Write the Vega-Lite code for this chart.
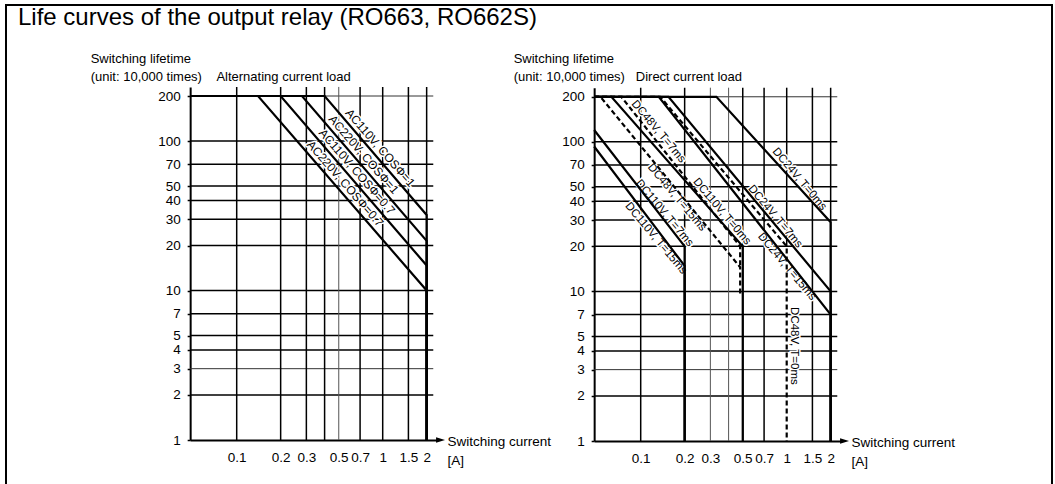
{
  "$schema": "https://vega.github.io/schema/vega-lite/v6.json",
  "autosize": {"type": "none"},
  "width": 1046,
  "height": 482,
  "padding": {"left": 6, "top": 5, "right": 3, "bottom": -3},
  "background": "white",
  "config": {
    "font": "Liberation Sans",
    "view": {"stroke": "#000", "strokeWidth": 2},
    "axis": {"domainColor": "#000", "domainWidth": 2, "labelColor": "#000", "labelFontSize": 13, "titleColor": "#000", "titleFontWeight": "normal", "titleFontSize": 13, "grid": false, "tickColor": "#000"}
  },
  "title": {"text": "Life curves of the output relay (RO663, RO662S)", "anchor": "start", "frame": "group", "dx": 12, "offset": -25, "fontSize": 24, "fontWeight": "normal", "color": "#000", "font": "Liberation Sans"},
  "datasets": {
    "currentGrid": [
      {"panel": "AC", "current": 0.1, "bottom": 1, "top": 230}, {"panel": "AC", "current": 0.2, "bottom": 1, "top": 230}, {"panel": "AC", "current": 0.3, "bottom": 1, "top": 230}, {"panel": "AC", "current": 0.4, "bottom": 1, "top": 230}, {"panel": "AC", "current": 0.7, "bottom": 1, "top": 230}, {"panel": "AC", "current": 1, "bottom": 1, "top": 230}, {"panel": "AC", "current": 1.5, "bottom": 1, "top": 230}, {"panel": "AC", "current": 2, "bottom": 1, "top": 230},
      {"panel": "DC", "current": 0.1, "bottom": 1, "top": 230}, {"panel": "DC", "current": 0.2, "bottom": 1, "top": 230}, {"panel": "DC", "current": 0.5, "bottom": 1, "top": 230}, {"panel": "DC", "current": 0.7, "bottom": 1, "top": 230}, {"panel": "DC", "current": 1, "bottom": 20, "top": 230}, {"panel": "DC", "current": 1.5, "bottom": 1, "top": 230}, {"panel": "DC", "current": 2, "bottom": 1, "top": 230}
    ],
    "fineCurrentGrid": [
      {"panel": "AC", "current": 0.5, "bottom": 1, "top": 230}, {"panel": "DC", "current": 0.3, "bottom": 1, "top": 230}, {"panel": "DC", "current": 0.4, "bottom": 1, "top": 230}
    ],
    "lifetimeGrid": [
      {"lifetime": 2}, {"lifetime": 4}, {"lifetime": 5}, {"lifetime": 7}, {"lifetime": 10}, {"lifetime": 20}, {"lifetime": 30}, {"lifetime": 40}, {"lifetime": 50}, {"lifetime": 70}, {"lifetime": 100}
    ],
    "fineLifetimeGrid": [{"lifetime": 3}, {"lifetime": 200}],
    "arrows": [
      {"panel": "AC", "current": 2.49, "lifetime": 1},
      {"panel": "DC", "current": 2.49, "lifetime": 1}
    ],
    "curves": [
      {"panel": "AC", "series": "AC110V, COSΦ=1", "voltage": "AC110V", "step": 1, "current": 0.048, "lifetime": 200},
      {"panel": "AC", "series": "AC110V, COSΦ=1", "voltage": "AC110V", "step": 2, "current": 0.4, "lifetime": 200},
      {"panel": "AC", "series": "AC110V, COSΦ=1", "voltage": "AC110V", "step": 3, "current": 2, "lifetime": 32},
      {"panel": "AC", "series": "AC110V, COSΦ=1", "voltage": "AC110V", "step": 4, "current": 2, "lifetime": 1},
      {"panel": "AC", "series": "AC220V, COSΦ=1", "voltage": "AC220V", "step": 1, "current": 0.048, "lifetime": 200},
      {"panel": "AC", "series": "AC220V, COSΦ=1", "voltage": "AC220V", "step": 2, "current": 0.28, "lifetime": 200},
      {"panel": "AC", "series": "AC220V, COSΦ=1", "voltage": "AC220V", "step": 3, "current": 2, "lifetime": 21.5},
      {"panel": "AC", "series": "AC220V, COSΦ=1", "voltage": "AC220V", "step": 4, "current": 2, "lifetime": 1},
      {"panel": "AC", "series": "AC110V, COSΦ=0.7", "voltage": "AC110V", "step": 1, "current": 0.048, "lifetime": 200},
      {"panel": "AC", "series": "AC110V, COSΦ=0.7", "voltage": "AC110V", "step": 2, "current": 0.2, "lifetime": 200},
      {"panel": "AC", "series": "AC110V, COSΦ=0.7", "voltage": "AC110V", "step": 3, "current": 2, "lifetime": 14.7},
      {"panel": "AC", "series": "AC110V, COSΦ=0.7", "voltage": "AC110V", "step": 4, "current": 2, "lifetime": 1},
      {"panel": "AC", "series": "AC220V, COSΦ=0.7", "voltage": "AC220V", "step": 1, "current": 0.048, "lifetime": 200},
      {"panel": "AC", "series": "AC220V, COSΦ=0.7", "voltage": "AC220V", "step": 2, "current": 0.14, "lifetime": 200},
      {"panel": "AC", "series": "AC220V, COSΦ=0.7", "voltage": "AC220V", "step": 3, "current": 2, "lifetime": 10},
      {"panel": "AC", "series": "AC220V, COSΦ=0.7", "voltage": "AC220V", "step": 4, "current": 2, "lifetime": 1},

      {"panel": "DC", "series": "DC24V, T=0ms", "voltage": "DC24V", "step": 1, "current": 0.048, "lifetime": 200},
      {"panel": "DC", "series": "DC24V, T=0ms", "voltage": "DC24V", "step": 2, "current": 0.33, "lifetime": 200},
      {"panel": "DC", "series": "DC24V, T=0ms", "voltage": "DC24V", "step": 3, "current": 2, "lifetime": 29},
      {"panel": "DC", "series": "DC24V, T=0ms", "voltage": "DC24V", "step": 4, "current": 2, "lifetime": 1},
      {"panel": "DC", "series": "DC24V, T=7ms", "voltage": "DC24V", "step": 1, "current": 0.048, "lifetime": 200},
      {"panel": "DC", "series": "DC24V, T=7ms", "voltage": "DC24V", "step": 2, "current": 0.155, "lifetime": 200},
      {"panel": "DC", "series": "DC24V, T=7ms", "voltage": "DC24V", "step": 3, "current": 2, "lifetime": 10},
      {"panel": "DC", "series": "DC24V, T=7ms", "voltage": "DC24V", "step": 4, "current": 2, "lifetime": 1},
      {"panel": "DC", "series": "DC24V, T=15ms", "voltage": "DC24V", "step": 1, "current": 0.048, "lifetime": 200},
      {"panel": "DC", "series": "DC24V, T=15ms", "voltage": "DC24V", "step": 2, "current": 0.133, "lifetime": 200},
      {"panel": "DC", "series": "DC24V, T=15ms", "voltage": "DC24V", "step": 3, "current": 2, "lifetime": 7},
      {"panel": "DC", "series": "DC24V, T=15ms", "voltage": "DC24V", "step": 4, "current": 2, "lifetime": 1},
      {"panel": "DC", "series": "DC110V, T=0ms", "voltage": "DC110V", "step": 1, "current": 0.048, "lifetime": 200},
      {"panel": "DC", "series": "DC110V, T=0ms", "voltage": "DC110V", "step": 2, "current": 0.063, "lifetime": 200},
      {"panel": "DC", "series": "DC110V, T=0ms", "voltage": "DC110V", "step": 3, "current": 0.5, "lifetime": 20},
      {"panel": "DC", "series": "DC110V, T=0ms", "voltage": "DC110V", "step": 4, "current": 0.5, "lifetime": 1},
      {"panel": "DC", "series": "DC110V, T=7ms", "voltage": "DC110V", "step": 1, "current": 0.048, "lifetime": 120},
      {"panel": "DC", "series": "DC110V, T=7ms", "voltage": "DC110V", "step": 2, "current": 0.2, "lifetime": 20},
      {"panel": "DC", "series": "DC110V, T=7ms", "voltage": "DC110V", "step": 3, "current": 0.2, "lifetime": 1},
      {"panel": "DC", "series": "DC110V, T=15ms", "voltage": "DC110V", "step": 1, "current": 0.048, "lifetime": 93},
      {"panel": "DC", "series": "DC110V, T=15ms", "voltage": "DC110V", "step": 2, "current": 0.2, "lifetime": 14.8},
      {"panel": "DC", "series": "DC110V, T=15ms", "voltage": "DC110V", "step": 3, "current": 0.2, "lifetime": 1},
      {"panel": "DC", "series": "DC48V, T=0ms", "voltage": "DC48V", "step": 1, "current": 0.048, "lifetime": 200},
      {"panel": "DC", "series": "DC48V, T=0ms", "voltage": "DC48V", "step": 2, "current": 0.136, "lifetime": 200},
      {"panel": "DC", "series": "DC48V, T=0ms", "voltage": "DC48V", "step": 3, "current": 1, "lifetime": 20},
      {"panel": "DC", "series": "DC48V, T=0ms", "voltage": "DC48V", "step": 4, "current": 1, "lifetime": 1},
      {"panel": "DC", "series": "DC48V, T=7ms", "voltage": "DC48V", "step": 1, "current": 0.048, "lifetime": 200},
      {"panel": "DC", "series": "DC48V, T=7ms", "voltage": "DC48V", "step": 2, "current": 0.0736, "lifetime": 200},
      {"panel": "DC", "series": "DC48V, T=7ms", "voltage": "DC48V", "step": 3, "current": 0.48, "lifetime": 20},
      {"panel": "DC", "series": "DC48V, T=7ms", "voltage": "DC48V", "step": 4, "current": 0.48, "lifetime": 14.5},
      {"panel": "DC", "series": "DC48V, T=15ms", "voltage": "DC48V", "step": 1, "current": 0.048, "lifetime": 200},
      {"panel": "DC", "series": "DC48V, T=15ms", "voltage": "DC48V", "step": 2, "current": 0.053, "lifetime": 200},
      {"panel": "DC", "series": "DC48V, T=15ms", "voltage": "DC48V", "step": 3, "current": 0.48, "lifetime": 14.5},
      {"panel": "DC", "series": "DC48V, T=15ms", "voltage": "DC48V", "step": 4, "current": 0.48, "lifetime": 9.5}
    ],
    "curveLabels": [
      {"panel": "AC", "series": "AC110V, COSΦ=1", "current": 0.869, "lifetime": 82.6},
      {"panel": "AC", "series": "AC220V, COSΦ=1", "current": 0.669, "lifetime": 74.5},
      {"panel": "AC", "series": "AC110V, COSΦ=0.7", "current": 0.602, "lifetime": 57.3},
      {"panel": "AC", "series": "AC220V, COSΦ=0.7", "current": 0.5, "lifetime": 47.6},
      {"panel": "DC", "series": "DC24V, T=0ms", "current": 1.218, "lifetime": 56.2},
      {"panel": "DC", "series": "DC24V, T=7ms", "current": 0.832, "lifetime": 31.6},
      {"panel": "DC", "series": "DC24V, T=15ms", "current": 1.0, "lifetime": 14.6},
      {"panel": "DC", "series": "DC48V, T=7ms", "current": 0.132, "lifetime": 116.8},
      {"panel": "DC", "series": "DC48V, T=15ms", "current": 0.1764, "lifetime": 42.4},
      {"panel": "DC", "series": "DC110V, T=0ms", "current": 0.3587, "lifetime": 34.1},
      {"panel": "DC", "series": "DC110V, T=7ms", "current": 0.1449, "lifetime": 33.3},
      {"panel": "DC", "series": "DC110V, T=15ms", "current": 0.1269, "lifetime": 22.6},
      {"panel": "DC", "series": "DC48V, T=0ms", "current": 1.0, "lifetime": 4.32}
    ]
  },
  "layer": [
    {
      "data": {"name": "lifetimeGrid"},
      "mark": {"type": "rule", "color": "#000", "strokeWidth": 1.5},
      "encoding": {
        "y": {"field": "lifetime", "type": "quantitative", "scale": {"type": "log", "domain": [1, 230], "range": [435, 81.93], "nice": false}, "axis": null},
        "x": {"datum": 0.048, "type": "quantitative", "scale": {"type": "log", "domain": [0.048, 2.35], "range": [184.16, 430.88], "nice": false}, "axis": null},
        "x2": {"datum": 2.22}
      }
    },
    {
      "data": {"name": "fineLifetimeGrid"},
      "mark": {"type": "rule", "color": "#333", "strokeWidth": 1},
      "encoding": {
        "y": {"field": "lifetime", "type": "quantitative", "scale": {"type": "log", "domain": [1, 230], "range": [435, 81.93], "nice": false}, "axis": null},
        "x": {"datum": 0.048, "type": "quantitative", "scale": {"type": "log", "domain": [0.048, 2.35], "range": [184.16, 430.88], "nice": false}, "axis": null},
        "x2": {"datum": 2.22}
      }
    },
    {
      "data": {"name": "currentGrid"},
      "transform": [{"filter": "datum.panel === 'AC'"}],
      "mark": {"type": "rule", "color": "#000", "strokeWidth": 1.5},
      "encoding": {
        "x": {"field": "current", "type": "quantitative", "scale": {"type": "log", "domain": [0.048, 2.35], "range": [184.16, 430.88], "nice": false}, "axis": null},
        "y": {"field": "bottom", "type": "quantitative", "scale": {"type": "log", "domain": [1, 230], "range": [435, 81.93], "nice": false}, "axis": null},
        "y2": {"field": "top"}
      }
    },
    {
      "data": {"name": "fineCurrentGrid"},
      "transform": [{"filter": "datum.panel === 'AC'"}],
      "mark": {"type": "rule", "color": "#555", "strokeWidth": 1},
      "encoding": {
        "x": {"field": "current", "type": "quantitative", "scale": {"type": "log", "domain": [0.048, 2.35], "range": [184.16, 430.88], "nice": false}, "axis": null},
        "y": {"field": "bottom", "type": "quantitative", "scale": {"type": "log", "domain": [1, 230], "range": [435, 81.93], "nice": false}, "axis": null},
        "y2": {"field": "top"}
      }
    },
    {
      "data": {"name": "lifetimeGrid"},
      "mark": {"type": "rule", "color": "#000", "strokeWidth": 1.5},
      "encoding": {
        "y": {"field": "lifetime", "type": "quantitative", "scale": {"type": "log", "domain": [1, 230], "range": [436, 82.7], "nice": false}, "axis": null},
        "x": {"datum": 0.048, "type": "quantitative", "scale": {"type": "log", "domain": [0.048, 2.35], "range": [588.16, 834.88], "nice": false}, "axis": null},
        "x2": {"datum": 2.22}
      }
    },
    {
      "data": {"name": "fineLifetimeGrid"},
      "mark": {"type": "rule", "color": "#333", "strokeWidth": 1},
      "encoding": {
        "y": {"field": "lifetime", "type": "quantitative", "scale": {"type": "log", "domain": [1, 230], "range": [436, 82.7], "nice": false}, "axis": null},
        "x": {"datum": 0.048, "type": "quantitative", "scale": {"type": "log", "domain": [0.048, 2.35], "range": [588.16, 834.88], "nice": false}, "axis": null},
        "x2": {"datum": 2.22}
      }
    },
    {
      "data": {"name": "currentGrid"},
      "transform": [{"filter": "datum.panel === 'DC'"}],
      "mark": {"type": "rule", "color": "#000", "strokeWidth": 1.5},
      "encoding": {
        "x": {"field": "current", "type": "quantitative", "scale": {"type": "log", "domain": [0.048, 2.35], "range": [588.16, 834.88], "nice": false}, "axis": null},
        "y": {"field": "bottom", "type": "quantitative", "scale": {"type": "log", "domain": [1, 230], "range": [436, 82.7], "nice": false}, "axis": null},
        "y2": {"field": "top"}
      }
    },
    {
      "data": {"name": "fineCurrentGrid"},
      "transform": [{"filter": "datum.panel === 'DC'"}],
      "mark": {"type": "rule", "color": "#555", "strokeWidth": 1},
      "encoding": {
        "x": {"field": "current", "type": "quantitative", "scale": {"type": "log", "domain": [0.048, 2.35], "range": [588.16, 834.88], "nice": false}, "axis": null},
        "y": {"field": "bottom", "type": "quantitative", "scale": {"type": "log", "domain": [1, 230], "range": [436, 82.7], "nice": false}, "axis": null},
        "y2": {"field": "top"}
      }
    },
    {
      "data": {"name": "curveLabels"},
      "transform": [{"filter": "datum.panel === 'AC'"}],
      "mark": {"type": "text", "angle": 49, "fontSize": 12, "align": "center", "baseline": "bottom", "dy": -1.5, "fill": "white", "stroke": "white", "strokeWidth": 3},
      "encoding": {
        "x": {"field": "current", "type": "quantitative", "scale": {"type": "log", "domain": [0.048, 2.35], "range": [184.16, 430.88], "nice": false}, "axis": null},
        "y": {"field": "lifetime", "type": "quantitative", "scale": {"type": "log", "domain": [1, 230], "range": [435, 81.93], "nice": false}, "axis": null},
        "text": {"field": "series"}
      }
    },
    {
      "data": {"name": "curveLabels"},
      "transform": [{"filter": "datum.panel === 'DC' && datum.series !== 'DC48V, T=0ms'"}],
      "mark": {"type": "text", "angle": 50, "fontSize": 11.5, "align": "center", "baseline": "middle", "fill": "white", "stroke": "white", "strokeWidth": 3},
      "encoding": {
        "x": {"field": "current", "type": "quantitative", "scale": {"type": "log", "domain": [0.048, 2.35], "range": [588.16, 834.88], "nice": false}, "axis": null},
        "y": {"field": "lifetime", "type": "quantitative", "scale": {"type": "log", "domain": [1, 230], "range": [436, 82.7], "nice": false}, "axis": null},
        "text": {"field": "series"}
      }
    },
    {
      "data": {"name": "curveLabels"},
      "transform": [{"filter": "datum.series === 'DC48V, T=0ms'"}],
      "mark": {"type": "text", "angle": 90, "fontSize": 11.5, "align": "center", "baseline": "bottom", "dy": -2, "fill": "white", "stroke": "white", "strokeWidth": 3},
      "encoding": {
        "x": {"field": "current", "type": "quantitative", "scale": {"type": "log", "domain": [0.048, 2.35], "range": [588.16, 834.88], "nice": false}, "axis": null},
        "y": {"field": "lifetime", "type": "quantitative", "scale": {"type": "log", "domain": [1, 230], "range": [436, 82.7], "nice": false}, "axis": null},
        "text": {"field": "series"}
      }
    },
    {
      "data": {"name": "curves"},
      "transform": [{"filter": "datum.panel === 'AC'"}],
      "mark": {"type": "line", "color": "#000", "strokeWidth": 2.2},
      "encoding": {
        "x": {"field": "current", "type": "quantitative", "scale": {"type": "log", "domain": [0.048, 2.35], "range": [184.16, 430.88], "nice": false},
          "axis": {"values": [0.1, 0.2, 0.3, 0.5, 0.7, 1, 1.5, 2], "format": "~g", "orient": "bottom", "offset": -47, "ticks": false, "tickSize": 0, "labelPadding": 10, "labelFlush": false, "labelOverlap": false, "labelFontSize": 13.5,
            "title": ["Switching current", "[A]"], "titleAlign": "left", "titleX": 441, "titleY": 5.5, "titleBaseline": "alphabetic", "titleLineHeight": 19, "titleFontSize": 13.5}},
        "y": {"field": "lifetime", "type": "quantitative", "scale": {"type": "log", "domain": [1, 230], "range": [435, 81.93], "nice": false},
          "axis": {"values": [1, 2, 3, 4, 5, 7, 10, 20, 30, 40, 50, 70, 100, 200], "format": "~g", "orient": "left", "offset": -184.16, "tickSize": 3, "tickWidth": 1.5, "labelPadding": 7, "labelFontSize": 13.5,
            "title": ["Switching lifetime", "(unit: 10,000 times)\u00a0\u00a0\u00a0\u00a0Alternating current load"], "titleAngle": 0, "titleAlign": "left", "titleBaseline": "alphabetic", "titleX": -100, "titleY": 57, "titleLineHeight": 18, "titleFontSize": 13}},
        "detail": {"field": "series"},
        "order": {"field": "step", "type": "quantitative"}
      }
    },
    {
      "data": {"name": "curves"},
      "transform": [{"filter": "datum.panel === 'DC' && datum.voltage !== 'DC48V'"}],
      "mark": {"type": "line", "color": "#000", "strokeWidth": 2.2},
      "encoding": {
        "x": {"field": "current", "type": "quantitative", "scale": {"type": "log", "domain": [0.048, 2.35], "range": [588.16, 834.88], "nice": false},
          "axis": {"values": [0.1, 0.2, 0.3, 0.5, 0.7, 1, 1.5, 2], "format": "~g", "orient": "bottom", "offset": -46, "ticks": false, "tickSize": 0, "labelPadding": 10, "labelFlush": false, "labelOverlap": false, "labelFontSize": 13.5,
            "title": ["Switching current", "[A]"], "titleAlign": "left", "titleX": 845, "titleY": 5.5, "titleBaseline": "alphabetic", "titleLineHeight": 19, "titleFontSize": 13.5}},
        "y": {"field": "lifetime", "type": "quantitative", "scale": {"type": "log", "domain": [1, 230], "range": [436, 82.7], "nice": false},
          "axis": {"values": [1, 2, 3, 4, 5, 7, 10, 20, 30, 40, 50, 70, 100, 200], "format": "~g", "orient": "left", "offset": -588.16, "tickSize": 3, "tickWidth": 1.5, "labelPadding": 7, "labelFontSize": 13.5,
            "title": ["Switching lifetime", "(unit: 10,000 times)\u00a0\u00a0\u00a0Direct current load"], "titleAngle": 0, "titleAlign": "left", "titleBaseline": "alphabetic", "titleX": -81, "titleY": 57, "titleLineHeight": 18, "titleFontSize": 13}},
        "detail": {"field": "series"},
        "order": {"field": "step", "type": "quantitative"}
      }
    },
    {
      "data": {"name": "curves"},
      "transform": [{"filter": "datum.panel === 'DC' && datum.voltage === 'DC48V'"}],
      "mark": {"type": "line", "color": "#000", "strokeWidth": 2.2, "strokeDash": [5, 3]},
      "encoding": {
        "x": {"field": "current", "type": "quantitative", "scale": {"type": "log", "domain": [0.048, 2.35], "range": [588.16, 834.88], "nice": false}, "axis": null},
        "y": {"field": "lifetime", "type": "quantitative", "scale": {"type": "log", "domain": [1, 230], "range": [436, 82.7], "nice": false}, "axis": null},
        "detail": {"field": "series"},
        "order": {"field": "step", "type": "quantitative"}
      }
    },
    {
      "data": {"name": "curveLabels"},
      "transform": [{"filter": "datum.panel === 'AC'"}],
      "mark": {"type": "text", "angle": 49, "fontSize": 12, "align": "center", "baseline": "bottom", "dy": -1.5, "fill": "#000"},
      "encoding": {
        "x": {"field": "current", "type": "quantitative", "scale": {"type": "log", "domain": [0.048, 2.35], "range": [184.16, 430.88], "nice": false}, "axis": null},
        "y": {"field": "lifetime", "type": "quantitative", "scale": {"type": "log", "domain": [1, 230], "range": [435, 81.93], "nice": false}, "axis": null},
        "text": {"field": "series"}
      }
    },
    {
      "data": {"name": "curveLabels"},
      "transform": [{"filter": "datum.panel === 'DC' && datum.series !== 'DC48V, T=0ms'"}],
      "mark": {"type": "text", "angle": 50, "fontSize": 11.5, "align": "center", "baseline": "middle", "fill": "#000"},
      "encoding": {
        "x": {"field": "current", "type": "quantitative", "scale": {"type": "log", "domain": [0.048, 2.35], "range": [588.16, 834.88], "nice": false}, "axis": null},
        "y": {"field": "lifetime", "type": "quantitative", "scale": {"type": "log", "domain": [1, 230], "range": [436, 82.7], "nice": false}, "axis": null},
        "text": {"field": "series"}
      }
    },
    {
      "data": {"name": "curveLabels"},
      "transform": [{"filter": "datum.series === 'DC48V, T=0ms'"}],
      "mark": {"type": "text", "angle": 90, "fontSize": 11.5, "align": "center", "baseline": "bottom", "dy": -2, "fill": "#000"},
      "encoding": {
        "x": {"field": "current", "type": "quantitative", "scale": {"type": "log", "domain": [0.048, 2.35], "range": [588.16, 834.88], "nice": false}, "axis": null},
        "y": {"field": "lifetime", "type": "quantitative", "scale": {"type": "log", "domain": [1, 230], "range": [436, 82.7], "nice": false}, "axis": null},
        "text": {"field": "series"}
      }
    },
    {
      "data": {"name": "arrows"},
      "transform": [{"filter": "datum.panel === 'AC'"}],
      "mark": {"type": "point", "shape": "M-1,-0.6L1,0L-1,0.6Z", "filled": true, "color": "#000", "size": 81, "opacity": 1},
      "encoding": {
        "x": {"field": "current", "type": "quantitative", "scale": {"type": "log", "domain": [0.048, 2.35], "range": [184.16, 430.88], "nice": false}, "axis": null},
        "y": {"field": "lifetime", "type": "quantitative", "scale": {"type": "log", "domain": [1, 230], "range": [435, 81.93], "nice": false}, "axis": null}
      }
    },
    {
      "data": {"name": "arrows"},
      "transform": [{"filter": "datum.panel === 'DC'"}],
      "mark": {"type": "point", "shape": "M-1,-0.6L1,0L-1,0.6Z", "filled": true, "color": "#000", "size": 81, "opacity": 1},
      "encoding": {
        "x": {"field": "current", "type": "quantitative", "scale": {"type": "log", "domain": [0.048, 2.35], "range": [588.16, 834.88], "nice": false}, "axis": null},
        "y": {"field": "lifetime", "type": "quantitative", "scale": {"type": "log", "domain": [1, 230], "range": [436, 82.7], "nice": false}, "axis": null}
      }
    }
  ],
  "resolve": {"scale": {"x": "independent", "y": "independent"}, "axis": {"x": "independent", "y": "independent"}}
}
